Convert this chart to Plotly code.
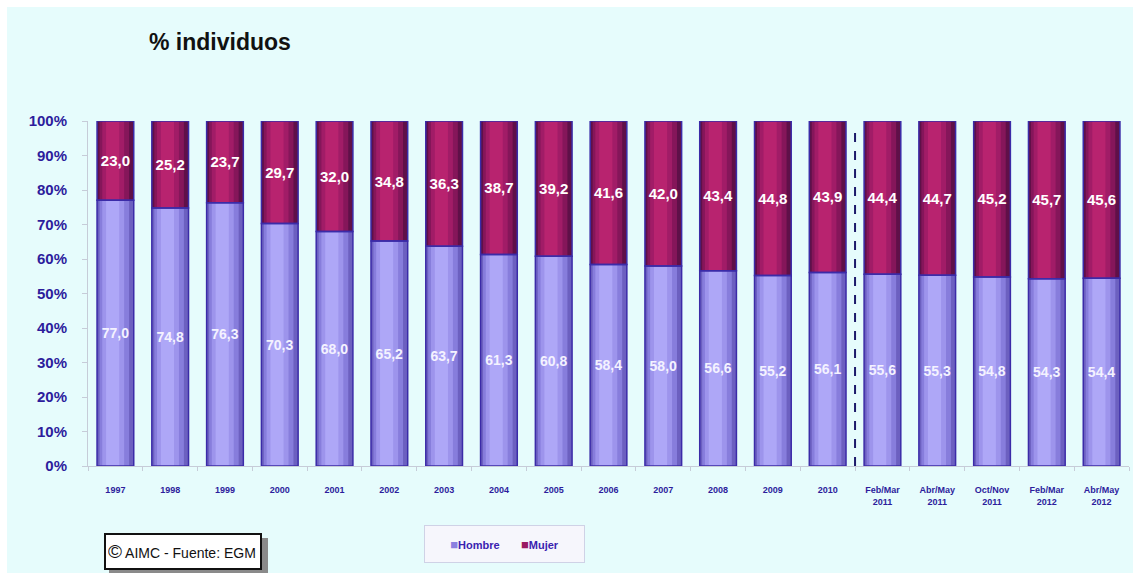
import plotly.graph_objects as go

W, H = 1133, 573
ML, MR, MT, MB = 88, 4, 121, 107

periodos = ["1997", "1998", "1999", "2000", "2001", "2002", "2003", "2004", "2005",
            "2006", "2007", "2008", "2009", "2010",
            "Feb/Mar<br>2011", "Abr/May<br>2011", "Oct/Nov<br>2011",
            "Feb/Mar<br>2012", "Abr/May<br>2012"]
hombre = [77.0, 74.8, 76.3, 70.3, 68.0, 65.2, 63.7, 61.3, 60.8, 58.4, 58.0,
          56.6, 55.2, 56.1, 55.6, 55.3, 54.8, 54.3, 54.4]
mujer = [23.0, 25.2, 23.7, 29.7, 32.0, 34.8, 36.3, 38.7, 39.2, 41.6, 42.0,
         43.4, 44.8, 43.9, 44.4, 44.7, 45.2, 45.7, 45.6]
y_ticks = [0, 10, 20, 30, 40, 50, 60, 70, 80, 90, 100]

PW = W - ML - MR
PH = H - MT - MB


def px2x(px):
    return (px - ML) / PW


def px2y(py):
    return (H - MB - py) / PH


def fmt(v):
    return f"{v:.1f}".replace(".", ",")


AXIS_BLUE = "#2d1d9c"
OUTLINE = "#3b2ba8"
BAR_W = 0.67
FONT = "Liberation Sans, Arial"

# gradient layers: (width, left shift, colour)
hombre_layers = [(BAR_W, 0.0, "#6c60c0"), (0.54, 0.02, "#877ddc"),
                 (0.40, 0.04, "#9d94ec"), (0.24, 0.05, "#aea7f7")]
mujer_layers = [(BAR_W, 0.0, "#5f1048"), (0.54, 0.02, "#85165a"),
                (0.40, 0.04, "#a11c67"), (0.24, 0.05, "#b8236f")]

hombre_base = [0] * len(hombre)
mujer_base = hombre

fig = go.Figure()
for vals, base, layers in [(hombre, hombre_base, hombre_layers),
                           (mujer, mujer_base, mujer_layers)]:
    for w, shift, col in layers:
        fig.add_trace(go.Bar(
            x=periodos, y=vals, base=base, width=w,
            offset=-w / 2 - shift,
            marker=dict(color=col, line=dict(width=0)),
            showlegend=False, hoverinfo="skip",
        ))

# transparent top layers carrying the outline and the value labels
fig.add_trace(go.Bar(
    x=periodos, y=hombre, base=hombre_base, width=BAR_W, name="Hombre",
    marker=dict(color="rgba(0,0,0,0)", line=dict(color=OUTLINE, width=1.5)),
    text=[fmt(v) for v in hombre], textposition="inside",
    insidetextanchor="middle", constraintext="none", textangle=0,
    textfont=dict(family=FONT, size=14, color="#f4f2ff", weight="bold"),
    showlegend=False,
))
fig.add_trace(go.Bar(
    x=periodos, y=mujer, base=mujer_base, width=BAR_W, name="Mujer",
    marker=dict(color="rgba(0,0,0,0)", line=dict(color=OUTLINE, width=1.5)),
    text=[fmt(v) for v in mujer], textposition="inside",
    insidetextanchor="middle", constraintext="none", textangle=0,
    textfont=dict(family=FONT, size=15, color="#ffffff", weight="bold"),
    showlegend=False,
))

shapes = [
    # cyan background
    dict(type="rect", xref="paper", yref="paper", layer="below",
         x0=px2x(7), x1=px2x(W + 5), y0=px2y(H + 5), y1=px2y(7),
         fillcolor="#e6fcfc", line=dict(width=0)),
    # dashed separator
    dict(type="line", xref="x", yref="y", x0=13.5, x1=13.5, y0=0, y1=98.8,
         line=dict(color="#1c1a6a", width=2, dash="dash")),
    # copyright shadow
    dict(type="rect", xref="paper", yref="paper",
         x0=px2x(109), x1=px2x(268), y0=px2y(576), y1=px2y(538),
         fillcolor="#8a8a8a", line=dict(width=0)),
]

annotations = [
    dict(text="<b>% individuos</b>", xref="paper", yref="paper",
         x=px2x(147), y=px2y(42), xanchor="left", yanchor="middle",
         showarrow=False,
         font=dict(family=FONT, size=23, color="#111111")),
    dict(text="<span style='font-size:19px'>©</span> AIMC - Fuente: EGM",
         xref="paper", yref="paper", x=px2x(104), y=px2y(533),
         xanchor="left", yanchor="top", showarrow=False,
         width=150, height=29, align="left",
         bgcolor="#ffffff", bordercolor="#111111", borderwidth=2, borderpad=2,
         font=dict(family=FONT, size=14, color="#111111")),
    # legend box
    dict(text=("<span style='color:#8b80e0;font-size:13px'>■</span><b>Hombre</b>"
               "&nbsp;&nbsp;&nbsp;&nbsp;&nbsp;&nbsp;&nbsp;"
               "<span style='color:#9a1a63;font-size:13px'>■</span><b>Mujer</b>"),
         xref="paper", yref="paper", x=px2x(424), y=px2y(525),
         xanchor="left", yanchor="top", showarrow=False,
         width=157, height=34, align="center",
         bgcolor="#f6f6fc", bordercolor="#cfd2e6", borderwidth=1, borderpad=1,
         font=dict(family=FONT, size=11, color="#3a22b0")),
]

fig.update_layout(
    width=W, height=H,
    margin=dict(l=ML, r=MR, t=MT, b=MB, pad=0),
    barmode="overlay",
    paper_bgcolor="#ffffff", plot_bgcolor="rgba(0,0,0,0)",
    font=dict(family=FONT, color=AXIS_BLUE),
    shapes=shapes, annotations=annotations,
    showlegend=False,
    xaxis=dict(
        type="category", showgrid=False, showline=True,
        linecolor="#c6ccd8", linewidth=1,
        ticks="outside", tickson="boundaries", ticklen=4, tickcolor="#c6ccd8",
        tickfont=dict(size=9, color=AXIS_BLUE, weight="bold"),
        ticklabelstandoff=15,
        range=[-0.5, len(periodos) - 0.5],
    ),
    yaxis=dict(
        range=[0, 100], tickvals=y_ticks,
        ticktext=[f"{v}%" for v in y_ticks],
        showgrid=False, showline=True, linecolor="#c6ccd8", linewidth=1,
        ticks="outside", ticklen=5, tickcolor="#c6ccd8",
        tickfont=dict(size=15, color=AXIS_BLUE, weight="bold"),
        ticklabelstandoff=12, zeroline=False,
    ),
)

fig.write_html("out.html")
